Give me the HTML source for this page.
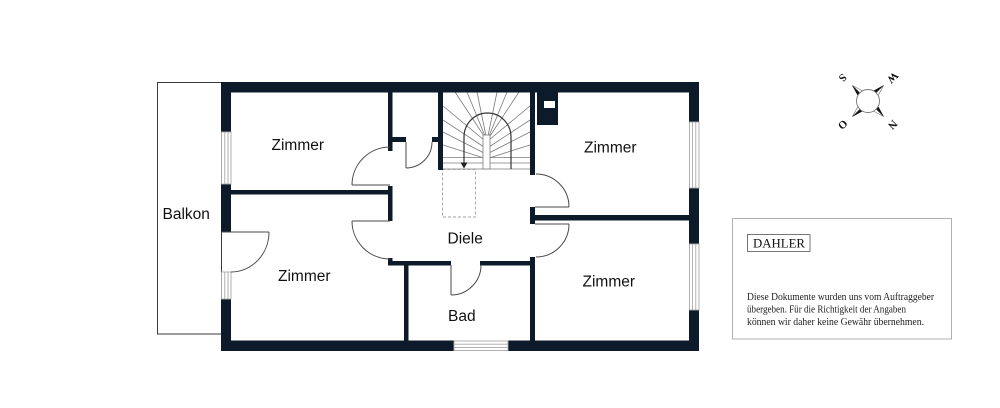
<!DOCTYPE html>
<html><head><meta charset="utf-8"><style>
html,body{margin:0;padding:0;background:#fff;}
svg{display:block;}
</style></head><body>
<svg width="1000" height="408" viewBox="0 0 1000 408" xmlns="http://www.w3.org/2000/svg">
<rect x="0" y="0" width="1000" height="408" fill="#fff"/>
<!-- Balcony -->
<rect x="157.5" y="82.5" width="64" height="251.5" fill="#fff" stroke="#3a3a3a" stroke-width="1"/>

<!-- Stair treads -->
<g stroke="#7a7a7a" stroke-width="0.8" fill="none">
<line x1="455" y1="92" x2="484" y2="136"/>
<line x1="467" y1="92" x2="485" y2="136"/>
<line x1="477" y1="92" x2="486" y2="136"/>
<line x1="497" y1="92" x2="488" y2="136"/>
<line x1="507" y1="92" x2="489" y2="136"/>
<line x1="519" y1="92" x2="490" y2="136"/>
<line x1="443" y1="106" x2="484" y2="140"/>
<line x1="443" y1="120" x2="484" y2="147"/>
<line x1="443" y1="132" x2="484" y2="153"/>
<line x1="443" y1="145" x2="484" y2="158"/>
<line x1="530" y1="106" x2="489" y2="140"/>
<line x1="530" y1="120" x2="489" y2="147"/>
<line x1="530" y1="132" x2="489" y2="153"/>
<line x1="530" y1="145" x2="489" y2="158"/>
<line x1="443" y1="157.5" x2="530" y2="157.5"/>
<line x1="443" y1="163" x2="530" y2="163"/>
<line x1="443" y1="169" x2="530" y2="169"/>
</g>
<rect x="483" y="135" width="7" height="34" fill="#fff" stroke="#7a7a7a" stroke-width="0.8"/>
<path d="M464,163 V137 A23.5,24 0 0 1 511,137 V169" fill="none" stroke="#333" stroke-width="1.2"/>
<polygon points="460.5,162.5 467.5,162.5 464,168.5" fill="#222"/>
<!-- dashed rect -->
<rect x="442.5" y="169.5" width="33" height="47.5" fill="none" stroke="#a0a0a0" stroke-width="0.9" stroke-dasharray="3,2"/>

<!-- Walls -->
<g fill="#0c1a2a">
<rect x="221" y="82" width="478" height="10.5"/>
<rect x="221" y="340.5" width="233" height="10.5"/>
<rect x="508" y="340.5" width="191" height="10.5"/>
<rect x="221" y="82" width="10" height="50"/>
<rect x="221" y="184" width="10" height="48"/>
<rect x="221" y="299" width="10" height="52"/>
<rect x="689" y="82" width="10" height="40"/>
<rect x="689" y="188" width="10" height="56"/>
<rect x="689" y="310" width="10" height="41"/>
<rect x="231" y="190" width="161.5" height="4.5"/>
<rect x="388" y="92" width="4.5" height="59"/>
<rect x="388" y="186" width="4.5" height="35"/>
<rect x="388" y="258" width="4.5" height="7.5"/>
<rect x="392" y="137" width="14" height="5"/>
<rect x="432" y="137" width="11" height="5"/>
<rect x="438" y="92" width="5" height="78"/>
<rect x="530" y="92" width="5" height="83"/>
<rect x="530" y="207" width="5" height="17"/>
<rect x="535" y="215" width="155" height="5.5"/>
<rect x="530" y="257" width="5" height="84"/>
<rect x="388" y="261" width="63" height="4.5"/>
<rect x="480" y="261" width="55" height="4.5"/>
<rect x="404" y="265" width="4.5" height="76"/>
<rect x="537" y="92" width="21" height="33"/>
</g>
<rect x="544" y="101" width="11" height="7" fill="#fff"/>

<!-- Windows -->
<g stroke="#a8a8a8" stroke-width="0.9" fill="#fff">
<rect x="221.5" y="132" width="9.5" height="52"/>
<line x1="224.8" y1="132" x2="224.8" y2="184"/>
<line x1="228" y1="132" x2="228" y2="184"/>
<rect x="221.5" y="272" width="9.5" height="27"/>
<line x1="224.8" y1="272" x2="224.8" y2="299"/>
<line x1="228" y1="272" x2="228" y2="299"/>
<rect x="689.5" y="122" width="9.5" height="66"/>
<line x1="692.5" y1="122" x2="692.5" y2="188"/>
<line x1="695.8" y1="122" x2="695.8" y2="188"/>
<rect x="689.5" y="244" width="9.5" height="66"/>
<line x1="692.5" y1="244" x2="692.5" y2="310"/>
<line x1="695.8" y1="244" x2="695.8" y2="310"/>
<rect x="454" y="341" width="54" height="9.5"/>
<line x1="454" y1="344.2" x2="508" y2="344.2"/>
<line x1="454" y1="347.4" x2="508" y2="347.4"/>
</g>

<!-- Doors -->
<g fill="none" stroke="#4a4a4a" stroke-width="1">
<line x1="406" y1="142" x2="406" y2="168"/>
<path d="M406,168 A26,26 0 0 0 432,142"/>
<line x1="352" y1="185" x2="390" y2="185"/>
<path d="M352,185 A38,38 0 0 1 390,147"/>
<line x1="352" y1="221" x2="390" y2="221"/>
<path d="M352,221 A38,38 0 0 0 390,259"/>
<line x1="535" y1="207" x2="569" y2="207"/>
<path d="M569,207 A33,33 0 0 0 536,174"/>
<line x1="535" y1="224" x2="569" y2="224"/>
<path d="M569,224 A33,33 0 0 1 536,257"/>
<line x1="451" y1="265" x2="451" y2="295"/>
<path d="M451,295 A30,30 0 0 0 481,265"/>
<line x1="221" y1="232" x2="269" y2="232"/>
<path d="M269,232 A38,40 0 0 1 231,272"/>
</g>

<!-- Room labels -->
<g font-family="'Liberation Sans', Arial, sans-serif" font-size="15.5" fill="#111">
<text x="162.5" y="219">Balkon</text>
<text x="271.5" y="150">Zimmer</text>
<text x="278" y="281">Zimmer</text>
<text x="447.5" y="243.5">Diele</text>
<text x="448" y="321">Bad</text>
<text x="584" y="152.5">Zimmer</text>
<text x="582.5" y="286.5">Zimmer</text>
</g>

<!-- Compass -->
<g transform="translate(868,101)">
<g fill="#111" stroke="#111" stroke-width="0.5">
<g transform="rotate(-45)"><polygon points="0,-22 -3.5,-10 0,-10"/><polygon points="0,-22 3.5,-10 0,-10" fill="#fff" stroke="#555"/></g>
<g transform="rotate(45)"><polygon points="0,-22 -3.5,-10 0,-10"/><polygon points="0,-22 3.5,-10 0,-10" fill="#fff" stroke="#555"/></g>
<g transform="rotate(135)"><polygon points="0,-22 -3.5,-10 0,-10"/><polygon points="0,-22 3.5,-10 0,-10" fill="#fff" stroke="#555"/></g>
<g transform="rotate(225)"><polygon points="0,-22 -3.5,-10 0,-10"/><polygon points="0,-22 3.5,-10 0,-10" fill="#fff" stroke="#555"/></g>
</g>
<circle cx="0" cy="0" r="11.5" fill="#fff" stroke="#777" stroke-width="0.9"/>
<g font-family="'Liberation Serif', serif" font-size="11" font-weight="bold" fill="#111" text-anchor="middle">
<text transform="translate(-25,-23) rotate(135)" y="4">S</text>
<text transform="translate(25,-23) rotate(135)" y="4">W</text>
<text transform="translate(-25,24) rotate(135)" y="4">O</text>
<text transform="translate(25,24) rotate(135)" y="4">N</text>
</g>
</g>

<!-- Info box -->
<rect x="732.5" y="218.5" width="219" height="120.5" fill="#fff" stroke="#b0b0b0" stroke-width="1"/>
<rect x="747.5" y="234.5" width="62.5" height="17" fill="#fff" stroke="#555" stroke-width="0.8"/>
<text x="753" y="247.5" font-family="'Liberation Serif', serif" font-size="12.5" fill="#111" textLength="52" lengthAdjust="spacingAndGlyphs">DAHLER</text>
<g font-family="'Liberation Serif', serif" font-size="10.2" fill="#222">
<text x="747" y="300" textLength="187" lengthAdjust="spacingAndGlyphs">Diese Dokumente wurden uns vom Auftraggeber</text>
<text x="747" y="312.5" textLength="159" lengthAdjust="spacingAndGlyphs">übergeben. Für die Richtigkeit der Angaben</text>
<text x="747" y="325" textLength="177" lengthAdjust="spacingAndGlyphs">können wir daher keine Gewähr übernehmen.</text>
</g>
</svg>
</body></html>
